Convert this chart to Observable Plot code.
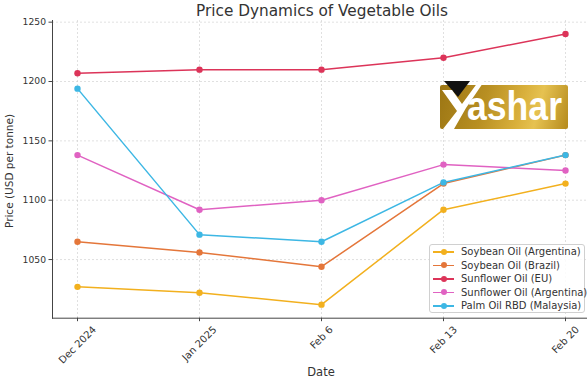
<!DOCTYPE html>
<html><head><meta charset="utf-8">
<script src="https://cdn.jsdelivr.net/npm/d3@7"></script>
<script src="https://cdn.jsdelivr.net/npm/@observablehq/plot@0.6"></script>
<style>
body{margin:0;background:#fff;font-family:"DejaVu Sans",sans-serif;}
#wrap{position:relative;width:587px;height:380px;overflow:hidden;}
#wrap svg{position:absolute;left:0;top:0;}
.ov{position:absolute;color:#333;white-space:nowrap;line-height:1;}
#legend{position:absolute;left:429px;top:244px;width:156px;height:69px;border:1px solid #d0d0d0;border-radius:3px;background:rgba(255,255,255,0.85);box-sizing:border-box;padding:0 0 0 3px;font-size:10px;color:#333;white-space:nowrap;}
.row{height:13.5px;display:flex;align-items:center;white-space:nowrap;}
.sw{position:relative;flex:none;width:21px;height:10px;margin-right:7px;}
.sw .l{position:absolute;left:0;right:0;top:4.25px;height:1.5px;}
.sw .d{position:absolute;left:7.5px;top:2px;width:6px;height:6px;border-radius:50%;}
#logo{position:absolute;left:440px;top:85px;width:128px;height:44px;border-radius:2px;background:linear-gradient(105deg,#9c7614 0%,#b88f22 35%,#d9b03c 62%,#e6c251 75%,#b58a1c 100%);overflow:visible;}
#logo .t{position:absolute;left:27px;top:-3px;font-family:"Liberation Sans",sans-serif;font-weight:bold;font-size:40px;color:#fff;line-height:1.2;transform-origin:0 0;}
</style></head>
<body><div id="wrap"></div>
<script>
const dates = ["Dec 2024", "Jan 2025", "Feb 6", "Feb 13", "Feb 20"];
const seriesNames = ["Soybean Oil (Argentina)", "Soybean Oil (Brazil)", "Sunflower Oil (EU)", "Sunflower Oil (Argentina)", "Palm Oil RBD (Malaysia)"];
const seriesColors = ["#f2b01e", "#e4763a", "#dc3459", "#e062c2", "#3db7e4"];
const soyArg = [1027, 1022, 1012, 1092, 1114];
const soyBra = [1065, 1056, 1044, 1114, 1138];
const sunEU = [1207, 1210, 1210, 1220, 1240];
const sunArg = [1138, 1092, 1100, 1130, 1125];
const palm = [1194, 1071, 1065, 1115, 1138];
const yTicks = [1050, 1100, 1150, 1200, 1250];
const yDomain = [1000.6, 1251.4];

const seriesValues = [soyArg, soyBra, sunEU, sunArg, palm];
const rows = [];
seriesNames.forEach((s, i) => seriesValues[i].forEach((v, j) => rows.push({series: s, date: dates[j], price: v})));

// measure x tick label widths so rotated labels can be centered under their ticks
const ctx = document.createElement("canvas").getContext("2d");
const xFont = 10;
ctx.font = `${xFont}px "DejaVu Sans"`;
const xLabelMarks = dates.map(lab => {
  const L = ctx.measureText(lab).width;
  const half = (L + xFont * 0.95) * Math.SQRT1_2 / 2;
  return Plot.text([lab], {x: v => v, text: v => v, frameAnchor: "bottom", rotate: -45, textAnchor: "middle", lineAnchor: "middle", dy: 6.5 + half, fontSize: xFont, fill: "#333"});
});

const plot = Plot.plot({
  width: 587, height: 380,
  marginTop: 20, marginBottom: 62.3, marginLeft: 52, marginRight: 0,
  style: {fontFamily: "DejaVu Sans, sans-serif", fontSize: "9px", color: "#333", background: "transparent"},
  x: {type: "point", domain: dates, range: [76.7, 566], padding: 0},
  y: {domain: yDomain},
  color: {domain: seriesNames, range: seriesColors},
  marks: [
    Plot.gridX(dates, {stroke: "#c8c8c8", strokeOpacity: 0.7, strokeDasharray: "2,2", strokeWidth: 0.8}),
    Plot.gridY(yTicks, {stroke: "#c8c8c8", strokeOpacity: 0.7, strokeDasharray: "2,2", strokeWidth: 0.8}),
    Plot.line(rows, {x: "date", y: "price", z: "series", stroke: "series", strokeWidth: 1.5}),
    Plot.dot(rows, {x: "date", y: "price", fill: "series", r: 3.2}),
    Plot.ruleY([yDomain[0]], {stroke: "#444", strokeWidth: 1}),
    Plot.frame({anchor: "left", stroke: "#444", strokeWidth: 1}),
    Plot.axisY(yTicks, {tickSize: 3.5, tickPadding: 3, label: null, fontSize: 9.2, stroke: "#444", tickFormat: d => String(d)}),
    Plot.axisX(dates, {tickSize: 3.5, label: null, stroke: "#444", tickFormat: () => ""}),
    ...xLabelMarks
  ]
});
const wrap = document.getElementById("wrap");
wrap.appendChild(plot);

function ov(text, css){const d=document.createElement("div");d.className="ov";d.textContent=text;Object.assign(d.style,css);wrap.appendChild(d);return d;}
ov("Price Dynamics of Vegetable Oils",{left:"322px",top:"4px",transform:"translateX(-50%)",fontSize:"15.3px"});
ov("Date",{left:"321px",top:"367px",transform:"translateX(-50%)",fontSize:"11.5px"});
ov("Price (USD per tonne)",{left:"9px",top:"170.5px",transform:"translate(-50%,-50%) rotate(-90deg)",fontSize:"10.5px"});

const lg=document.createElement("div");lg.id="legend";
seriesNames.forEach((s,i)=>{const r=document.createElement("div");r.className="row";
 r.innerHTML=`<div class="sw"><div class="l" style="background:${seriesColors[i]}"></div><div class="d" style="background:${seriesColors[i]}"></div></div><span>${s}</span>`;lg.appendChild(r);});
wrap.appendChild(lg);

const logo=document.createElement("div");logo.id="logo";
logo.innerHTML=`<svg width="140" height="60" style="position:absolute;left:0;top:-7px;overflow:visible">
<polygon points="4,3 30,3 18,19" fill="#111"/>
<path d="M2,12 L12,12 L22,26 L41,0 L45,2 L26,30 L14,51 L3,51 L17,33 Z" fill="#fff"/>
</svg><div class="t">ashar</div>`;
wrap.appendChild(logo);
ctx.font = 'bold 40px "Liberation Sans"';
const lw = ctx.measureText("ashar").width;
logo.querySelector(".t").style.transform = `scaleX(${95 / lw})`;
</script></body></html>
